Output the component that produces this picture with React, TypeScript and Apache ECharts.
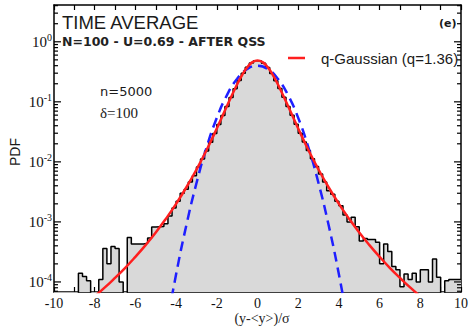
import React, { useEffect, useRef } from 'react';
import * as echarts from 'echarts';

// Histogram: 100 bins of width 0.2 from -10 to 10 (values are PDF heights, 0 = empty bin)
const binStart = -10;
const binWidth = 0.2;
const histValues = [
  0, 0, 0, 0, 0, 0, 1.4e-4, 1.23e-4, 1.05e-4, 0,
  0, 1.1e-4, 3.6e-4, 2.0e-4, 3.9e-4, 3.6e-4, 1.0e-4, 0, 5.5e-4, 4.3e-4,
  4.3e-4, 4.3e-4, 4.4e-4, 5.4e-4, 8.2e-4, 8.3e-4, 8.4e-4, 9.3e-4, 1.25e-3, 1.7e-3,
  2.2e-3, 3.0e-3, 3.5e-3, 4.6e-3, 5.9e-3, 8.2e-3, 0.0112, 0.0152, 0.0212, 0.0296,
  0.042, 0.059, 0.0835, 0.118, 0.165, 0.226, 0.298, 0.375, 0.442, 0.482,
  0.48, 0.44, 0.372, 0.296, 0.225, 0.166, 0.119, 0.084, 0.0595, 0.0422,
  0.03, 0.0214, 0.0155, 0.0113, 8.4e-3, 6.3e-3, 4.6e-3, 3.3e-3, 2.9e-3, 2.2e-3,
  1.85e-3, 1.3e-3, 1.0e-3, 1.2e-3, 8.3e-4, 4.8e-4, 5.3e-4, 5.1e-4, 5.1e-4, 4.6e-4,
  2.0e-4, 4.3e-4, 3.2e-4, 1.8e-4, 1.6e-4, 8.3e-5, 1.35e-4, 1.1e-4, 1.4e-4, 1.0e-4,
  1.6e-4, 1.6e-4, 1.0e-4, 2.4e-4, 1.2e-4, 0, 1.05e-4, 1.1e-4, 1.1e-4, 1.1e-4,
];

// q-Gaussian fit (red)
const qGaussX = [-8, -7.5, -7, -6.5, -6, -5.5, -5, -4.5, -4, -3.5, -3, -2.5, -2, -1.5, -1, -0.75, -0.5, -0.25, 0,
  0.25, 0.5, 0.75, 1, 1.5, 2, 2.5, 3, 3.5, 4, 4.5, 5, 5.5, 6, 6.5, 7, 7.5, 8];
const qGaussY = [5.75e-5, 8.1e-5, 1.17e-4, 1.72e-4, 2.62e-4, 4.1e-4, 6.65e-4, 1.13e-3, 2.0e-3, 3.74e-3, 7.44e-3, 0.0158, 0.0359, 0.085, 0.196, 0.282, 0.378, 0.458, 0.49,
  0.458, 0.378, 0.282, 0.196, 0.085, 0.0359, 0.0158, 7.44e-3, 3.74e-3, 2.0e-3, 1.13e-3, 6.65e-4, 4.1e-4, 2.62e-4, 1.72e-4, 1.17e-4, 8.1e-5, 5.75e-5];

// Gaussian (blue dashed)
const gaussX = [-4.5, -4, -3.5, -3, -2.5, -2, -1.5, -1, -0.5, 0, 0.5, 1, 1.5, 2, 2.5, 3, 3.5, 4, 4.5];
const gaussY = [1.6e-5, 1.34e-4, 8.7e-4, 4.4e-3, 0.0175, 0.054, 0.1295, 0.242, 0.352, 0.399,
  0.352, 0.242, 0.1295, 0.054, 0.0175, 4.4e-3, 8.7e-4, 1.34e-4, 1.6e-5];

const xMin = -10;
const xMax = 10;
const xLabelStep = 2;
const yMin = 6.8e-5;
const yMax = 4.1;
const yDecades = [-5, -4, -3, -2, -1, 0];

const titleText = 'TIME AVERAGE';
const subtitleText = 'N=100 - U=0.69 - AFTER QSS';
const panelText = '(e)';
const legendText = 'q-Gaussian (q=1.36)';
const noteN = 'n=5000';
const noteDelta = 'δ=100';
const xName = '(y-<y>)/σ';
const yName = 'PDF';

const SERIF = 'Liberation Serif';
const SANS = 'Liberation Sans';

export default function App() {
  const ref = useRef<HTMLDivElement>(null);

  useEffect(() => {
    if (!ref.current) return;
    const chart = echarts.init(ref.current, undefined, { renderer: 'svg' });

    const floor = 1e-7;
    const histData: number[][] = histValues.map((v, i) => [
      +(binStart + i * binWidth).toFixed(2),
      v > 0 ? v : floor,
    ]);
    const lastV = histValues[histValues.length - 1];
    histData.push([binStart + histValues.length * binWidth, lastV > 0 ? lastV : floor]);

    const tickData: number[][] = [];
    yDecades.forEach((d) => {
      for (let k = 1; k <= 9; k++) {
        const v = k * Math.pow(10, d);
        if (v >= yMin && v <= yMax) tickData.push([xMin, v, k === 1 ? 1 : 0]);
      }
    });

    const yAxisBase = {
      type: 'log' as const,
      logBase: 10,
      min: yMin,
      max: yMax,
      splitNumber: 5,
      splitLine: { show: false },
      axisTick: { show: false },
      minorTick: { show: false },
      axisLine: { show: true, onZero: false, lineStyle: { color: '#000', width: 1.5 } },
    };

    const xAxisBase = {
      type: 'value' as const,
      min: xMin,
      max: xMax,
      interval: xLabelStep,
      splitLine: { show: false },
      axisLine: { show: true, onZero: false, lineStyle: { color: '#000', width: 1.5 } },
      axisTick: { show: true, inside: true, length: 5, lineStyle: { color: '#000', width: 1.2 } },
      minorTick: { show: true, splitNumber: 2, length: 5, lineStyle: { color: '#000', width: 1.2 } },
    };

    chart.setOption({
      animation: false,
      grid: { left: 54, right: 1, top: 5, bottom: 39, containLabel: false },
      xAxis: [
        {
          ...xAxisBase,
          position: 'bottom',
          axisLabel: {
            show: true,
            margin: 4,
            fontFamily: SERIF,
            fontSize: 14,
            color: '#111',
          },
        },
        {
          ...xAxisBase,
          position: 'top',
          axisLabel: { show: false },
        },
      ],
      yAxis: [
        {
          ...yAxisBase,
          position: 'left',
          axisLabel: {
            show: true,
            margin: 2,
            formatter: (v: number) => {
              const e = Math.log10(v);
              const r = Math.round(e);
              if (Math.abs(e - r) > 1e-6) return '';
              return `{b|10}{s|${r}}`;
            },
            rich: {
              b: { fontFamily: SERIF, fontSize: 15, color: '#111', lineHeight: 18 },
              s: { fontFamily: SERIF, fontSize: 10, color: '#111', verticalAlign: 'top', lineHeight: 10 },
            },
          },
        },
        {
          ...yAxisBase,
          position: 'right',
          axisLabel: { show: false },
        },
      ],
      series: [
        {
          type: 'line',
          name: 'histogram',
          data: histData,
          step: 'end',
          symbol: 'none',
          clip: true,
          lineStyle: { color: '#000', width: 1.5 },
          areaStyle: { color: '#d9d9d9', opacity: 1, origin: 'start' },
          z: 1,
        },
        {
          type: 'line',
          name: 'Gaussian',
          data: gaussX.map((x, i) => [x, gaussY[i]]),
          smooth: true,
          symbol: 'none',
          clip: true,
          lineStyle: { color: '#1f1fff', width: 2.5, type: [10, 6] },
          z: 3,
        },
        {
          type: 'line',
          name: legendText,
          data: qGaussX.map((x, i) => [x, qGaussY[i]]),
          smooth: true,
          symbol: 'none',
          clip: true,
          lineStyle: { color: '#ff1f1f', width: 2.5 },
          z: 4,
        },
        {
          type: 'custom',
          name: 'yticks',
          data: tickData,
          encode: { x: 0, y: 1 },
          clip: false,
          silent: true,
          z: 6,
          renderItem: (params: any, api: any) => {
            const v = api.value(1);
            const major = api.value(2) === 1;
            const pL = api.coord([xMin, v]);
            const pR = api.coord([xMax, v]);
            const len = major ? 7 : 4;
            const st = { stroke: '#000', lineWidth: 1.2 };
            return {
              type: 'group',
              children: [
                { type: 'line', shape: { x1: pL[0], y1: pL[1], x2: pL[0] + len, y2: pL[1] }, style: st },
                { type: 'line', shape: { x1: pR[0], y1: pR[1], x2: pR[0] - len, y2: pR[1] }, style: st },
              ],
            };
          },
        },
      ],
      graphic: [
        {
          type: 'text', x: 62, y: 22, z: 10,
          style: { text: titleText, fontFamily: SANS, fontSize: 18.5, fill: '#1a1a1a', verticalAlign: 'middle' },
        },
        {
          type: 'text', x: 62, y: 41, z: 10,
          style: { text: subtitleText, fontFamily: 'DejaVu Sans', fontWeight: 'bold', fontSize: 12.5, fill: '#222', verticalAlign: 'middle' },
        },
        {
          type: 'text', x: 439, y: 23, z: 10,
          style: { text: panelText, fontFamily: 'DejaVu Sans', fontWeight: 'bold', fontSize: 11, fill: '#1a1a1a', verticalAlign: 'middle' },
        },
        {
          type: 'line', z: 10,
          shape: { x1: 288, y1: 58, x2: 305, y2: 58 },
          style: { stroke: '#ff1f1f', lineWidth: 2.5 },
        },
        {
          type: 'text', x: 321, y: 58, z: 10,
          style: { text: legendText, fontFamily: SANS, fontSize: 15, fill: '#1a1a1a', verticalAlign: 'middle' },
        },
        {
          type: 'text', x: 100, y: 91, z: 10,
          style: { text: noteN, fontFamily: 'DejaVu Sans', fontSize: 13, fill: '#1a1a1a', verticalAlign: 'middle' },
        },
        {
          type: 'text', x: 100, y: 113, z: 10,
          style: { text: noteDelta, fontFamily: SERIF, fontSize: 15, fill: '#1a1a1a', verticalAlign: 'middle' },
        },
        {
          type: 'text', x: 262, y: 318, z: 10,
          style: { text: xName, fontFamily: SERIF, fontSize: 14, fill: '#222', align: 'center', verticalAlign: 'middle' },
        },
        {
          type: 'text', x: 15, y: 152, z: 10, rotation: Math.PI / 2,
          style: { text: yName, fontFamily: SANS, fontSize: 14, fill: '#1a1a1a', align: 'center', verticalAlign: 'middle' },
        },
      ],
    });

    return () => {
      chart.dispose();
    };
  }, []);

  return (
    <div
      ref={ref}
      style={{ position: 'fixed', left: 0, top: 0, width: 471, height: 331, background: '#fff' }}
    />
  );
}
